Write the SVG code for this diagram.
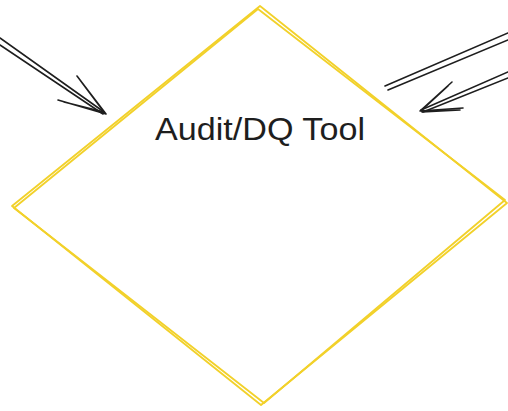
<svg xmlns="http://www.w3.org/2000/svg" width="508" height="411" viewBox="0 0 508 411">
<style>
.dia{fill:none;stroke:#f2d12a;stroke-width:1.8;stroke-linejoin:round;stroke-linecap:round}
.ar{fill:none;stroke:#1e1e1e;stroke-width:1.6;stroke-linecap:round;stroke-linejoin:round}
.lbl{font-family:"Liberation Sans",Arial,sans-serif;font-size:32px;fill:#1e1e1e}
</style>
<rect width="508" height="411" fill="#ffffff"/>
<g id="connectors">
<path class="ar" d="M0 38 L104 112 M0 45 L103 114"/>
<path class="ar" d="M106 114 L77 76 M104 112 L80 80 M106 114 L58 100 M104 112 L64 102"/>
<path class="ar" d="M508 33 L385 86 M508 40 L388 90"/>
<path class="ar" d="M508 72 L421 110 M508 78 L423 112"/>
<path class="ar" d="M420 111 L452 82 M422 110 L448 86 M420 111 L463 108 M422 112 L460 110"/>
</g>
<g id="node-audit">
<path class="dia" d="M260 6 L507 203 L261 405 L12 206 Z"/>
<path class="dia" d="M258 9 L505 200 L264 403 L14 208 Z"/>
<text class="lbl" x="260" y="140" text-anchor="middle" textLength="210" lengthAdjust="spacingAndGlyphs">Audit/DQ Tool</text>
</g>
</svg>
